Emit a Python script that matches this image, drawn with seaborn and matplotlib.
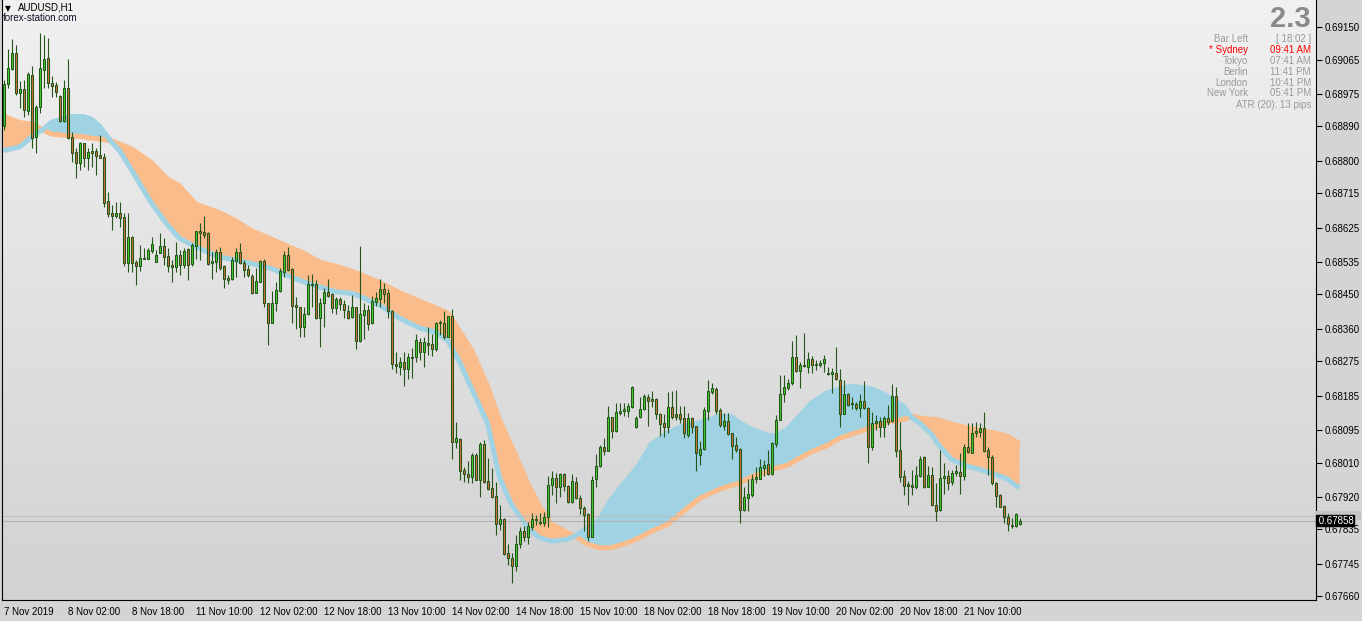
import numpy as np
import pandas as pd
import matplotlib
matplotlib.use("Agg")
import matplotlib.pyplot as plt
import matplotlib.transforms as mtransforms
from matplotlib.colors import LinearSegmentedColormap
from matplotlib.patches import Rectangle
import seaborn as sns

sns.set_style("white")
plt.rcParams['font.family'] = ['Liberation Sans', 'DejaVu Sans']

# AUDUSD H1 candles (bar 0 = 7 Nov 2019 10:00)
opens = [
    0.68891, 0.69001, 0.69040, 0.69082, 0.68977, 0.68988, 0.68930, 0.69024, 0.68862, 0.68941,
    0.69038, 0.69069, 0.69004, 0.68998, 0.68970, 0.68904, 0.68990, 0.68862, 0.68823, 0.68794,
    0.68846, 0.68807, 0.68825, 0.68825, 0.68815, 0.68810, 0.68694, 0.68663, 0.68655, 0.68663,
    0.68652, 0.68532, 0.68600, 0.68535, 0.68524, 0.68545, 0.68542, 0.68563, 0.68535, 0.68558,
    0.68576, 0.68550, 0.68527, 0.68521, 0.68553, 0.68527, 0.68569, 0.68529, 0.68576, 0.68616,
    0.68613, 0.68610, 0.68532, 0.68535, 0.68561, 0.68524, 0.68493, 0.68490, 0.68537, 0.68561,
    0.68532, 0.68516, 0.68498, 0.68453, 0.68482, 0.68537, 0.68427, 0.68375, 0.68427, 0.68459,
    0.68508, 0.68553, 0.68516, 0.68422, 0.68417, 0.68364, 0.68398, 0.68477, 0.68477, 0.68388,
    0.68427, 0.68456, 0.68451, 0.68414, 0.68438, 0.68425, 0.68406, 0.68391, 0.68417, 0.68328,
    0.68396, 0.68409, 0.68375, 0.68430, 0.68438, 0.68464, 0.68453, 0.68406, 0.68267, 0.68259,
    0.68273, 0.68254, 0.68286, 0.68286, 0.68325, 0.68299, 0.68322, 0.68320, 0.68307, 0.68375,
    0.68375, 0.68338, 0.68393, 0.68063, 0.68071, 0.67990, 0.67979, 0.67971, 0.68029, 0.67963,
    0.68058, 0.67961, 0.67942, 0.67922, 0.67848, 0.67861, 0.67772, 0.67759, 0.67738, 0.67796,
    0.67830, 0.67814, 0.67840, 0.67861, 0.67853, 0.67851, 0.67867, 0.67950, 0.67969, 0.67945,
    0.67979, 0.67948, 0.67906, 0.67958, 0.67916, 0.67890, 0.67874, 0.67814, 0.67966, 0.68000,
    0.68050, 0.68039, 0.68128, 0.68092, 0.68139, 0.68144, 0.68144, 0.68155, 0.68102, 0.68128,
    0.68149, 0.68181, 0.68176, 0.68176, 0.68136, 0.68113, 0.68102, 0.68155, 0.68136, 0.68136,
    0.68126, 0.68081, 0.68126, 0.68105, 0.68029, 0.68045, 0.68144, 0.68194, 0.68202, 0.68147,
    0.68105, 0.68118, 0.68087, 0.68055, 0.68045, 0.67885, 0.67916, 0.67924, 0.67966, 0.67966,
    0.67995, 0.68005, 0.67979, 0.68058, 0.68121, 0.68189, 0.68204, 0.68218, 0.68286, 0.68249,
    0.68265, 0.68259, 0.68280, 0.68267, 0.68265, 0.68270, 0.68244, 0.68241, 0.68244, 0.68225,
    0.68136, 0.68189, 0.68165, 0.68163, 0.68152, 0.68170, 0.68152, 0.68050, 0.68113, 0.68118,
    0.68102, 0.68126, 0.68118, 0.68184, 0.68042, 0.67974, 0.67953, 0.67950, 0.67945, 0.67974,
    0.68024, 0.67945, 0.67977, 0.67898, 0.67885, 0.67969, 0.67974, 0.67958, 0.67982, 0.67984,
    0.67974, 0.68050, 0.68034, 0.68087, 0.68089, 0.68100, 0.68042, 0.68024, 0.67956, 0.67924,
    0.67895, 0.67867, 0.67846, 0.67843, 0.67848,
]
highs = [
    0.69011, 0.69093, 0.69119, 0.69103, 0.69009, 0.69011, 0.69032, 0.69048, 0.68946, 0.69134,
    0.69129, 0.69121, 0.69022, 0.69006, 0.68972, 0.69011, 0.69066, 0.68875, 0.68833, 0.68849,
    0.68846, 0.68833, 0.68846, 0.68833, 0.68867, 0.68820, 0.68718, 0.68684, 0.68692, 0.68692,
    0.68663, 0.68663, 0.68603, 0.68540, 0.68579, 0.68571, 0.68571, 0.68600, 0.68566, 0.68610,
    0.68597, 0.68571, 0.68540, 0.68587, 0.68566, 0.68571, 0.68571, 0.68584, 0.68616, 0.68637,
    0.68655, 0.68613, 0.68561, 0.68569, 0.68574, 0.68527, 0.68500, 0.68548, 0.68571, 0.68584,
    0.68540, 0.68527, 0.68503, 0.68519, 0.68540, 0.68542, 0.68427, 0.68459, 0.68482, 0.68519,
    0.68563, 0.68574, 0.68519, 0.68443, 0.68417, 0.68417, 0.68500, 0.68503, 0.68487, 0.68440,
    0.68466, 0.68490, 0.68453, 0.68443, 0.68443, 0.68435, 0.68422, 0.68448, 0.68417, 0.68576,
    0.68427, 0.68422, 0.68446, 0.68456, 0.68490, 0.68480, 0.68464, 0.68409, 0.68299, 0.68286,
    0.68299, 0.68296, 0.68309, 0.68346, 0.68335, 0.68338, 0.68364, 0.68346, 0.68377, 0.68383,
    0.68406, 0.68393, 0.68411, 0.68115, 0.68073, 0.67997, 0.68013, 0.68034, 0.68034, 0.68063,
    0.68068, 0.68021, 0.67995, 0.67958, 0.67898, 0.67864, 0.67796, 0.67772, 0.67819, 0.67840,
    0.67843, 0.67853, 0.67877, 0.67872, 0.67877, 0.67880, 0.67974, 0.67987, 0.67982, 0.67982,
    0.67982, 0.67950, 0.67979, 0.67971, 0.67924, 0.67895, 0.67877, 0.67974, 0.68032, 0.68055,
    0.68073, 0.68157, 0.68128, 0.68165, 0.68165, 0.68165, 0.68165, 0.68210, 0.68131, 0.68181,
    0.68189, 0.68189, 0.68197, 0.68178, 0.68139, 0.68136, 0.68194, 0.68197, 0.68199, 0.68157,
    0.68157, 0.68139, 0.68128, 0.68105, 0.68066, 0.68155, 0.68225, 0.68218, 0.68207, 0.68152,
    0.68139, 0.68139, 0.68087, 0.68076, 0.68047, 0.67945, 0.67966, 0.67979, 0.67997, 0.68018,
    0.68016, 0.68042, 0.68063, 0.68134, 0.68238, 0.68238, 0.68228, 0.68328, 0.68343, 0.68273,
    0.68349, 0.68299, 0.68288, 0.68278, 0.68278, 0.68291, 0.68259, 0.68257, 0.68312, 0.68254,
    0.68225, 0.68191, 0.68181, 0.68168, 0.68189, 0.68223, 0.68155, 0.68142, 0.68134, 0.68128,
    0.68131, 0.68160, 0.68215, 0.68207, 0.68115, 0.67990, 0.67961, 0.67990, 0.68000, 0.68026,
    0.68026, 0.68000, 0.67997, 0.67956, 0.68042, 0.68008, 0.67990, 0.67990, 0.68003, 0.68034,
    0.68058, 0.68113, 0.68113, 0.68115, 0.68113, 0.68142, 0.68050, 0.68029, 0.67958, 0.67927,
    0.67898, 0.67877, 0.67864, 0.67877, 0.67864,
]
lows = [
    0.68880, 0.68990, 0.69038, 0.68972, 0.68938, 0.68914, 0.68920, 0.68833, 0.68820, 0.68925,
    0.68990, 0.68990, 0.68967, 0.68967, 0.68901, 0.68901, 0.68857, 0.68797, 0.68755, 0.68776,
    0.68784, 0.68776, 0.68784, 0.68763, 0.68807, 0.68679, 0.68652, 0.68618, 0.68650, 0.68626,
    0.68524, 0.68508, 0.68508, 0.68474, 0.68511, 0.68542, 0.68542, 0.68558, 0.68535, 0.68558,
    0.68527, 0.68508, 0.68482, 0.68508, 0.68500, 0.68519, 0.68487, 0.68524, 0.68542, 0.68540,
    0.68597, 0.68527, 0.68490, 0.68508, 0.68514, 0.68466, 0.68477, 0.68487, 0.68495, 0.68529,
    0.68495, 0.68495, 0.68451, 0.68453, 0.68482, 0.68417, 0.68317, 0.68375, 0.68406, 0.68456,
    0.68495, 0.68511, 0.68375, 0.68359, 0.68338, 0.68338, 0.68396, 0.68417, 0.68385, 0.68312,
    0.68364, 0.68443, 0.68401, 0.68398, 0.68409, 0.68388, 0.68385, 0.68388, 0.68307, 0.68325,
    0.68333, 0.68356, 0.68372, 0.68419, 0.68417, 0.68427, 0.68388, 0.68254, 0.68244, 0.68238,
    0.68210, 0.68228, 0.68231, 0.68273, 0.68278, 0.68259, 0.68291, 0.68288, 0.68301, 0.68343,
    0.68333, 0.68338, 0.68018, 0.68047, 0.67963, 0.67958, 0.67956, 0.67956, 0.67963, 0.67919,
    0.67956, 0.67937, 0.67916, 0.67819, 0.67832, 0.67767, 0.67741, 0.67694, 0.67725, 0.67785,
    0.67804, 0.67796, 0.67832, 0.67846, 0.67846, 0.67843, 0.67840, 0.67924, 0.67903, 0.67919,
    0.67935, 0.67903, 0.67903, 0.67914, 0.67874, 0.67830, 0.67804, 0.67814, 0.67945, 0.67997,
    0.68029, 0.68039, 0.68073, 0.68089, 0.68134, 0.68131, 0.68128, 0.68152, 0.68100, 0.68126,
    0.68147, 0.68105, 0.68155, 0.68123, 0.68079, 0.68076, 0.68087, 0.68123, 0.68121, 0.68113,
    0.68073, 0.68076, 0.68087, 0.67987, 0.68003, 0.68042, 0.68121, 0.68189, 0.68136, 0.68102,
    0.68094, 0.68081, 0.68018, 0.68037, 0.67851, 0.67882, 0.67882, 0.67919, 0.67956, 0.67966,
    0.67974, 0.67977, 0.67977, 0.68050, 0.68121, 0.68168, 0.68199, 0.68212, 0.68246, 0.68204,
    0.68259, 0.68244, 0.68244, 0.68252, 0.68259, 0.68246, 0.68238, 0.68191, 0.68225, 0.68102,
    0.68136, 0.68157, 0.68149, 0.68147, 0.68128, 0.68149, 0.68008, 0.68042, 0.68094, 0.68076,
    0.68076, 0.68108, 0.68115, 0.68024, 0.67958, 0.67924, 0.67898, 0.67924, 0.67940, 0.67971,
    0.67942, 0.67945, 0.67895, 0.67856, 0.67882, 0.67927, 0.67937, 0.67950, 0.67974, 0.67927,
    0.67963, 0.68034, 0.68034, 0.68076, 0.68076, 0.68037, 0.67977, 0.67950, 0.67893, 0.67893,
    0.67851, 0.67830, 0.67838, 0.67840, 0.67846,
]
closes = [
    0.69001, 0.69043, 0.69082, 0.68977, 0.68988, 0.68933, 0.69027, 0.68859, 0.68941, 0.69043,
    0.69066, 0.69004, 0.68996, 0.68980, 0.68904, 0.68990, 0.68859, 0.68820, 0.68794, 0.68846,
    0.68807, 0.68823, 0.68820, 0.68812, 0.68807, 0.68689, 0.68660, 0.68655, 0.68663, 0.68650,
    0.68532, 0.68600, 0.68532, 0.68524, 0.68545, 0.68542, 0.68566, 0.68582, 0.68553, 0.68576,
    0.68548, 0.68524, 0.68521, 0.68553, 0.68527, 0.68563, 0.68527, 0.68579, 0.68616, 0.68610,
    0.68605, 0.68529, 0.68537, 0.68561, 0.68519, 0.68490, 0.68487, 0.68540, 0.68561, 0.68532,
    0.68514, 0.68500, 0.68453, 0.68485, 0.68537, 0.68427, 0.68375, 0.68427, 0.68461, 0.68511,
    0.68553, 0.68514, 0.68419, 0.68417, 0.68364, 0.68398, 0.68477, 0.68474, 0.68388, 0.68427,
    0.68456, 0.68446, 0.68414, 0.68438, 0.68425, 0.68409, 0.68388, 0.68417, 0.68328, 0.68398,
    0.68409, 0.68372, 0.68432, 0.68440, 0.68464, 0.68451, 0.68406, 0.68267, 0.68262, 0.68273,
    0.68254, 0.68286, 0.68283, 0.68330, 0.68299, 0.68325, 0.68317, 0.68307, 0.68375, 0.68377,
    0.68338, 0.68393, 0.68063, 0.68073, 0.67987, 0.67979, 0.67971, 0.68029, 0.67963, 0.68058,
    0.67958, 0.67940, 0.67919, 0.67848, 0.67861, 0.67770, 0.67759, 0.67738, 0.67796, 0.67830,
    0.67814, 0.67843, 0.67861, 0.67859, 0.67851, 0.67867, 0.67950, 0.67969, 0.67945, 0.67979,
    0.67948, 0.67906, 0.67961, 0.67916, 0.67890, 0.67872, 0.67814, 0.67963, 0.68000, 0.68050,
    0.68039, 0.68128, 0.68092, 0.68142, 0.68144, 0.68149, 0.68157, 0.68207, 0.68126, 0.68149,
    0.68184, 0.68170, 0.68170, 0.68136, 0.68110, 0.68102, 0.68155, 0.68128, 0.68128, 0.68123,
    0.68087, 0.68126, 0.68102, 0.68034, 0.68045, 0.68147, 0.68197, 0.68204, 0.68144, 0.68108,
    0.68118, 0.68084, 0.68053, 0.68042, 0.67885, 0.67919, 0.67927, 0.67966, 0.67971, 0.67997,
    0.68003, 0.67979, 0.68060, 0.68121, 0.68189, 0.68207, 0.68218, 0.68286, 0.68249, 0.68265,
    0.68262, 0.68280, 0.68265, 0.68265, 0.68270, 0.68280, 0.68241, 0.68246, 0.68228, 0.68136,
    0.68189, 0.68160, 0.68163, 0.68152, 0.68170, 0.68152, 0.68050, 0.68113, 0.68118, 0.68102,
    0.68126, 0.68115, 0.68184, 0.68039, 0.67971, 0.67948, 0.67948, 0.67945, 0.67977, 0.68018,
    0.67945, 0.67977, 0.67900, 0.67882, 0.67969, 0.67974, 0.67956, 0.67982, 0.67987, 0.67974,
    0.68050, 0.68037, 0.68087, 0.68092, 0.68100, 0.68039, 0.68024, 0.67956, 0.67922, 0.67893,
    0.67867, 0.67848, 0.67843, 0.67874, 0.67858,
]

# moving-average cloud (slow = orange, fast = blue), read at selected bars
ma_bars = [0, 4, 7, 10, 12, 17, 20, 22, 24, 27, 29, 32, 37, 41, 44, 48, 54, 58, 62, 67,
           71, 75, 79, 83, 87, 89, 94, 99, 104, 108, 111, 114, 117, 121, 124, 127, 131, 134, 137, 141,
           143, 146, 149, 152, 156, 159, 162, 166, 169, 174, 179, 182, 184, 187, 191, 193, 196, 199, 202, 206,
           209, 212, 217, 221, 225, 227, 229, 232, 234, 237, 241, 244, 247, 251, 253, 254]
slow_ma = [0.68917, 0.68900, 0.68896, 0.68880, 0.68870, 0.68865, 0.68863, 0.68859, 0.68857, 0.68852,
           0.68844, 0.68831, 0.68795, 0.68752, 0.68734, 0.68687, 0.68664, 0.68643, 0.68617, 0.68595,
           0.68576, 0.68559, 0.68535, 0.68524, 0.68511, 0.68503, 0.68481, 0.68455, 0.68432, 0.68415,
           0.68402, 0.68354, 0.68304, 0.68210, 0.68121, 0.68053, 0.67957, 0.67895, 0.67848, 0.67826,
           0.67817, 0.67796, 0.67787, 0.67787, 0.67800, 0.67813, 0.67830, 0.67848, 0.67874, 0.67916,
           0.67940, 0.67950, 0.67956, 0.67973, 0.67986, 0.67995, 0.68003, 0.68021, 0.68038, 0.68055,
           0.68073, 0.68084, 0.68101, 0.68116, 0.68123, 0.68131, 0.68127, 0.68123, 0.68121, 0.68110,
           0.68101, 0.68094, 0.68089, 0.68079, 0.68066, 0.68058]
fast_ma = [0.68827, 0.68836, 0.68862, 0.68883, 0.68901, 0.68916, 0.68916, 0.68909, 0.68891, 0.68849,
           0.68827, 0.68776, 0.68689, 0.68632, 0.68597, 0.68575, 0.68548, 0.68540, 0.68531, 0.68518,
           0.68500, 0.68483, 0.68470, 0.68457, 0.68453, 0.68446, 0.68422, 0.68388, 0.68362, 0.68352,
           0.68330, 0.68274, 0.68204, 0.68113, 0.67971, 0.67900, 0.67840, 0.67813, 0.67804, 0.67809,
           0.67819, 0.67839, 0.67861, 0.67914, 0.67966, 0.68005, 0.68058, 0.68087, 0.68102, 0.68114,
           0.68131, 0.68130, 0.68114, 0.68097, 0.68081, 0.68079, 0.68097, 0.68131, 0.68166, 0.68193,
           0.68202, 0.68210, 0.68203, 0.68184, 0.68157, 0.68128, 0.68114, 0.68084, 0.68053, 0.68018,
           0.68000, 0.67992, 0.67982, 0.67967, 0.67950, 0.67945]

time_tick_bars = [0, 16, 32, 48, 64, 80, 96, 112, 128, 144, 160, 176, 192, 208, 224, 240]
time_tick_labels = ['7 Nov 2019', '8 Nov 02:00', '8 Nov 18:00', '11 Nov 10:00', '12 Nov 02:00',
                    '12 Nov 18:00', '13 Nov 10:00', '14 Nov 02:00', '14 Nov 18:00', '15 Nov 10:00',
                    '18 Nov 02:00', '18 Nov 18:00', '19 Nov 10:00', '20 Nov 02:00', '20 Nov 18:00',
                    '21 Nov 10:00']
price_ticks = [0.69150, 0.69065, 0.68975, 0.68890, 0.68800, 0.68715, 0.68625, 0.68535, 0.68450,
               0.68360, 0.68275, 0.68185, 0.68095, 0.68010, 0.67920, 0.67835, 0.67745, 0.67660]
bid = 0.67858
ask = 0.67871

info_labels = ['Bar Left', '* Sydney', 'Tokyo', 'Berlin', 'London', 'New York']
info_values = ['[ 18:02 ]', '09:41 AM', '07:41 AM', '11:41 PM', '10:41 PM', '05:41 PM']

df = pd.DataFrame({'bar': np.arange(len(opens)), 'open': opens, 'high': highs,
                   'low': lows, 'close': closes})
ma = pd.DataFrame({'bar': ma_bars, 'slow': slow_ma, 'fast': fast_ma})

W, H = 1362, 621
fig = plt.figure(figsize=(W / 100, H / 100), dpi=100)
fig.patch.set_facecolor('#d4d4d4')
ax = fig.add_axes([2 / W, 21 / H, 1314 / W, 600 / H])

# background gradient of the chart window
bg = LinearSegmentedColormap.from_list('bg', ['#d2d2d2', '#f1f1f1'])
ax.imshow(np.linspace(0, 1, 256).reshape(-1, 1), extent=[0, 1, 0, 1], transform=ax.transAxes,
          cmap=bg, aspect='auto', origin='lower', zorder=0)

orange = '#f9bc8a'
blue = '#9fd2e2'
ax.fill_between(ma.bar, ma.slow, ma.fast, where=ma.fast >= ma.slow, interpolate=True,
                color=blue, lw=0, zorder=1)
ax.fill_between(ma.bar, ma.slow, ma.fast, where=ma.fast < ma.slow, interpolate=True,
                color=orange, lw=0, zorder=1)
sns.lineplot(data=ma, x='bar', y='slow', color=orange, lw=3.6, ax=ax, zorder=2,
             solid_capstyle='butt')
sns.lineplot(data=ma, x='bar', y='fast', color=blue, lw=3.6, ax=ax, zorder=2,
             solid_capstyle='butt')

ax.axhline(ask, color='#bdbdbd', lw=0.8, zorder=2.5)
ax.axhline(bid, color='#b3b3b3', lw=0.8, zorder=2.5)

# candles
edge = '#24561a'
fills = np.where(df.close >= df.open, '#3fcc2e', '#d0703a')
ax.vlines(df.bar, df.low, df.high, color=edge, lw=0.8, zorder=3)
ax.bar(df.bar, df.close - df.open, bottom=df.open, width=0.5, color=fills,
       edgecolor=edge, linewidth=0.75, zorder=4)

ax.set_xlim(-0.375, 328.125)
ax.set_ylim(0.67650, 0.69221)
ax.set_xlabel('')
ax.set_ylabel('')

ax.set_xticks(time_tick_bars)
ax.set_xticklabels(time_tick_labels)
for lbl in ax.get_xticklabels():
    lbl.set_ha('left')
ax.yaxis.tick_right()
ax.set_yticks(price_ticks)
ax.set_yticklabels([f'{p:.5f}' for p in price_ticks])
ax.tick_params(axis='both', direction='out', length=4, width=0.8, color='black',
               labelsize=7, labelcolor='black')
ax.tick_params(axis='x', pad=1)
ax.tick_params(axis='y', pad=2)

for side in ['left', 'bottom', 'right']:
    ax.spines[side].set_color('black')
    ax.spines[side].set_linewidth(0.8)
ax.spines['top'].set_visible(False)

# current price marks on the price scale: faint ask box, black bid label
trans = mtransforms.blended_transform_factory(ax.transAxes, ax.transData)
ax.add_patch(Rectangle((1.0, ask - 0.00012), 0.034, 0.00024, transform=trans,
                       fc='#c4c4c4', ec='none', clip_on=False, zorder=5))
ax.text(1.0, bid, ' ' + f'{bid:.5f}', transform=trans, ha='left', va='center', fontsize=7,
        color='white', clip_on=False, zorder=6,
        bbox=dict(fc='black', ec='black', pad=0.3))

# top-left symbol caption
fig.text(5 / W, 1 - 8.5 / H, '\u25bc', fontsize=5.5, va='center', ha='left',
         family='DejaVu Sans', color='black')
fig.text(18 / W, 1 - 8 / H, 'AUDUSD,H1', fontsize=7, va='center', ha='left', color='black')
fig.text(3 / W, 1 - 18 / H, 'forex-station.com', fontsize=7, va='center', ha='left',
         color='#101028')

# top-right info panel
fig.text(1311 / W, 1 - 19 / H, '2.3', fontsize=21, weight='bold', color='#8a8a8a',
         ha='right', va='center')
row_y = [39, 50, 61, 72, 83, 93.5]
for y, lab, val in zip(row_y, info_labels, info_values):
    col = '#ff0000' if 'Sydney' in lab else '#9a9a9a'
    fig.text(1248 / W, 1 - y / H, lab, fontsize=7, color=col, ha='right', va='center')
    fig.text(1311 / W, 1 - y / H, val, fontsize=7, color=col, ha='right', va='center')
fig.text(1311 / W, 1 - 104.5 / H, 'ATR (20): 13 pips', fontsize=7, color='#9a9a9a',
         ha='right', va='center')

fig.savefig('out.png', dpi=100)
